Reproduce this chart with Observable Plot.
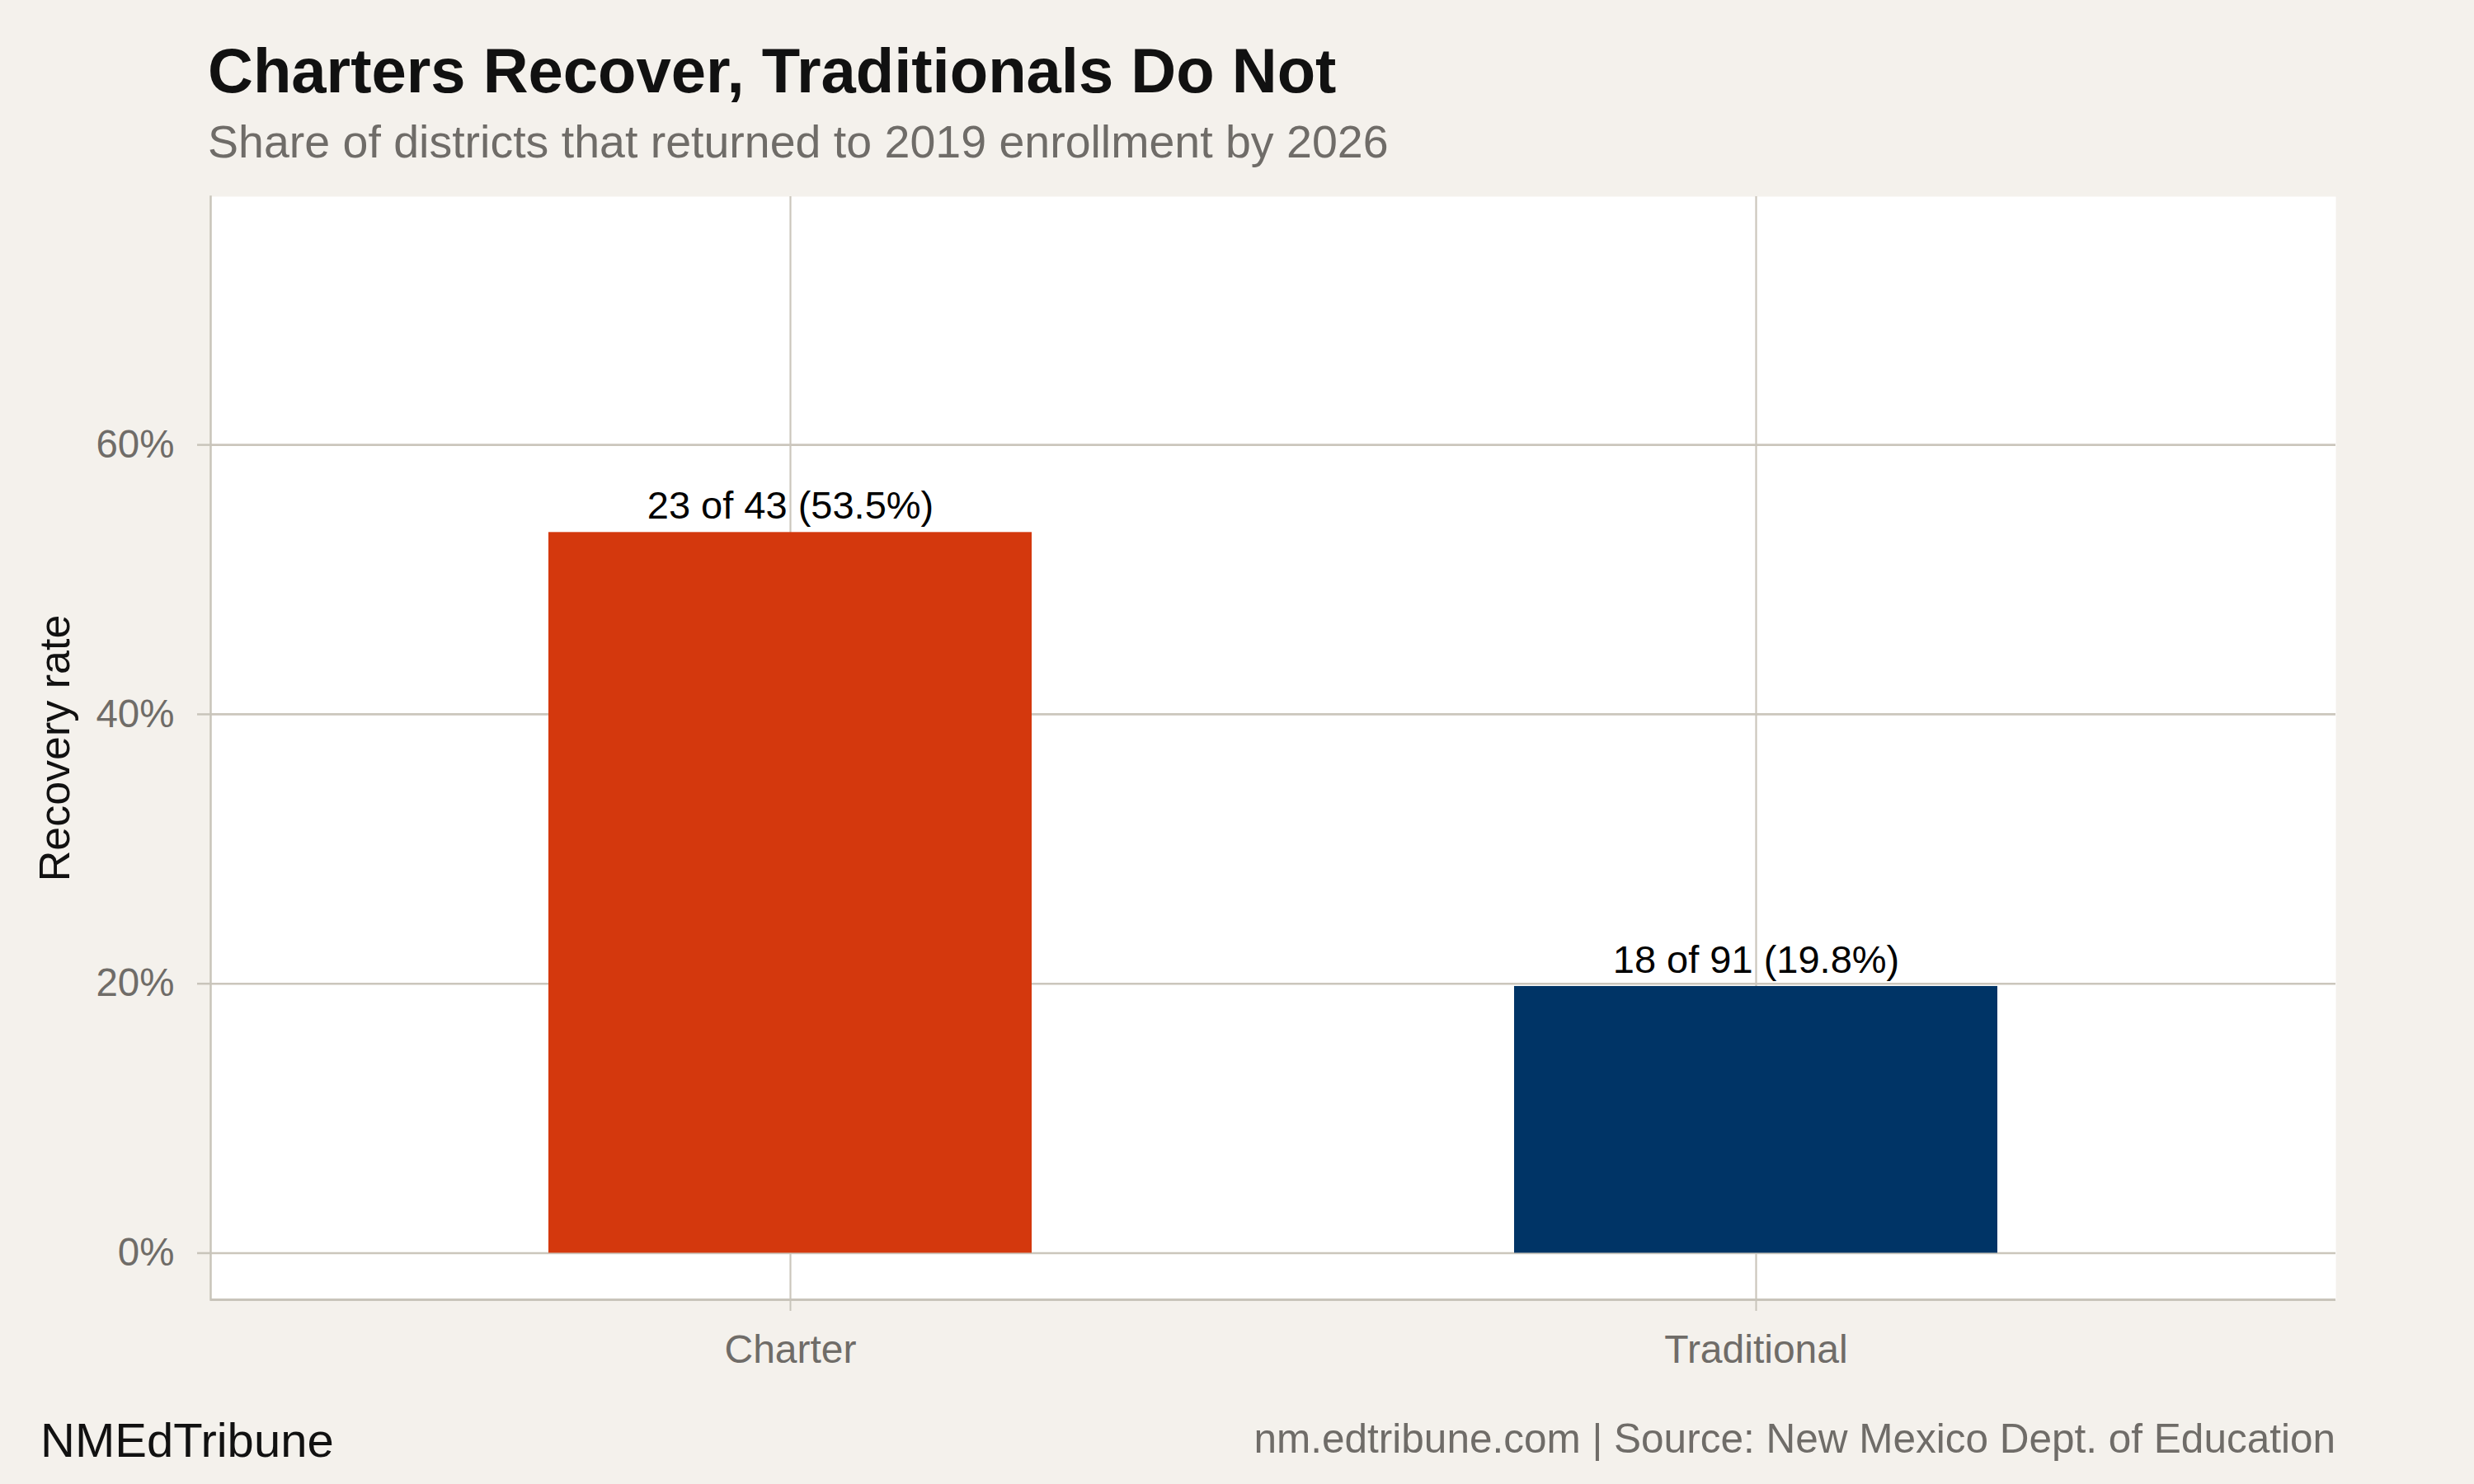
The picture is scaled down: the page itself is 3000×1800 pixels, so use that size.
<!DOCTYPE html>
<html>
<head>
<meta charset="utf-8">
<script src="https://cdn.jsdelivr.net/npm/d3@7"></script>
<script src="https://cdn.jsdelivr.net/npm/@observablehq/plot@0.6"></script>
<style>
html, body { margin: 0; padding: 0; background: #f4f1ec; }
#wrap { position: relative; width: 3000px; height: 1800px; background: #f4f1ec; font-family: "Liberation Sans", Arial, sans-serif; overflow: hidden; }
.t { position: absolute; white-space: nowrap; line-height: 1; }
#title { left: 252px; top: 47.7px; font-size: 76px; font-weight: bold; color: #111111; }
#subtitle { left: 252px; top: 145px; font-size: 55.5px; color: #6f6c68; }
#chart { position: absolute; left: 0; top: 200px; }
#brand { left: 49px; top: 1718px; font-size: 58px; color: #111111; }
#source { right: 168px; top: 1720px; font-size: 49.5px; color: #6f6c68; }
</style>
</head>
<body>
<div id="wrap">
  <div id="title" class="t">Charters Recover, Traditionals Do Not</div>
  <div id="subtitle" class="t">Share of districts that returned to 2019 enrollment by 2026</div>
  <div id="chart"></div>
  <div id="brand" class="t">NMEdTribune</div>
  <div id="source" class="t">nm.edtribune.com | Source: New Mexico Dept. of Education</div>
</div>
<script>
// ---- data ----
const categories = ["Charter", "Traditional"];
const recovered = [23, 18];
const totals = [43, 91];
const rates = [0.535, 0.198];
const yTicks = [0, 0.2, 0.4, 0.6];
const yTickLabels = ["0%", "20%", "40%", "60%"];

// ---- styles ----
const barColors = ["#d4380d", "#003466"];
const gridColor = "#cbc6bc";
const axisColor = "#c8c4ba";
const tickTextColor = "#6f6c68";

const data = categories.map((c, i) => ({
  category: c,
  rate: rates[i],
  label: `${recovered[i]} of ${totals[i]} (${(rates[i] * 100).toFixed(1)}%)`
}));

const yMin = -0.0346, yMax = 0.7843;

const chart = Plot.plot({
  width: 3000,
  height: 1480,
  marginLeft: 255,
  marginRight: 168,
  marginTop: 38,
  marginBottom: 104,
  style: { background: "transparent", fontFamily: "Liberation Sans, Arial, sans-serif", overflow: "visible" },
  x: { type: "band", domain: categories, paddingInner: 0.5, paddingOuter: 0.3495, label: null },
  y: { domain: [yMin, yMax], label: null },
  color: { domain: categories, range: barColors },
  marks: [
    Plot.frame({ fill: "white", stroke: "none" }),
    Plot.ruleY(yTicks, { stroke: gridColor, strokeWidth: 2.6 }),
    Plot.ruleX(categories, { stroke: gridColor, strokeWidth: 2.2 }),
    Plot.barY(data, { x: "category", y: "rate", fill: "category" }),
    Plot.text(data, { x: "category", y: "rate", text: "label", dy: -16.5, lineAnchor: "bottom", fontSize: 47, fill: "#000000" }),
    Plot.ruleY([yMin], { stroke: axisColor, strokeWidth: 3 }),
    Plot.frame({ anchor: "left", stroke: axisColor, strokeWidth: 2.5 }),
    Plot.axisY({
      anchor: "left", ticks: yTicks, tickFormat: (d) => yTickLabels[yTicks.indexOf(d)],
      tickSize: 16, tickPadding: 28, fontSize: 47.5,
      stroke: axisColor, strokeWidth: 2.5, fill: tickTextColor, label: null
    }),
    Plot.axisX({
      anchor: "bottom", tickSize: 14, tickPadding: 28, fontSize: 48,
      stroke: axisColor, strokeWidth: 2, fill: tickTextColor, label: null
    }),
    Plot.text(["Recovery rate"], {
      frameAnchor: "left", text: (d) => d, dx: -188, rotate: -90,
      fontSize: 52, fill: "#111111", textAnchor: "middle", lineAnchor: "middle"
    })
  ]
});

document.getElementById("chart").appendChild(chart);
</script>
</body>
</html>
